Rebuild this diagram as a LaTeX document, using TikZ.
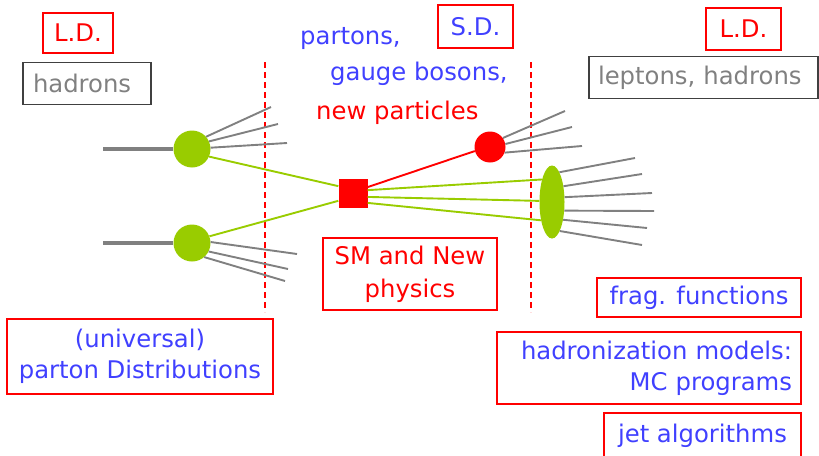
\documentclass[tikz,border=0pt]{standalone}
\usepackage{fontspec}
\setmainfont{DejaVu Sans}
\usetikzlibrary{shapes.geometric}
\definecolor{ldred}{RGB}{255,0,0}
\definecolor{sdblue}{RGB}{64,64,255}
\definecolor{blobgreen}{RGB}{153,204,0}
\definecolor{legray}{RGB}{128,128,128}
\definecolor{framegray}{RGB}{64,64,64}

\begin{document}
\begin{tikzpicture}[x=1pt,y=-1pt,
  lbl/.style={font=\fontsize{24.3}{31}\selectfont, inner ysep=0pt},
  redbox/.style={lbl, draw=ldred, line width=1.3pt},
  graybox/.style={lbl, draw=framegray, line width=1.3pt, text=legray},
  fan/.style={legray, line width=1.9pt},
  gluon/.style={blobgreen, line width=1.9pt},
  beam/.style={legray, line width=4.5pt},
  blob/.style={circle, fill=blobgreen, minimum size=37pt, inner sep=0pt},
  cut/.style={ldred, dash pattern=on 6pt off 4pt, line width=1.4pt}]

\useasboundingbox (0,0) rectangle (819,455);

% labels and boxes
\node[redbox, text=ldred, minimum width=70pt, minimum height=40pt, inner xsep=0pt] (ldl) at (78,33) {L.D.};
\node[graybox, text width=108pt, align=left, inner xsep=10pt, minimum height=42pt] (had) at (87,83.5) {hadrons};
\node[redbox, text=sdblue, minimum width=75pt, minimum height=43pt, inner xsep=0pt] (sd) at (475.5,26.5) {S.D.};
\node[redbox, text=ldred, minimum width=75pt, minimum height=42pt, inner xsep=0pt] (ldr) at (743.5,29) {L.D.};
\node[graybox, text width=211pt, align=left, inner xsep=9pt, minimum height=42pt] (lep) at (703.5,77.5) {leptons, hadrons};

\node[lbl, text=sdblue, anchor=base west, inner sep=0pt] (prt) at (300,44) {partons,};
\node[lbl, text=sdblue, anchor=base west, inner sep=0pt] (gb) at (330,80) {gauge bosons,};
\node[lbl, text=ldred, anchor=base west, inner sep=0pt] (newp) at (316,119) {new particles};

\node[redbox, text=ldred, align=center, minimum width=174pt, minimum height=72pt, inner xsep=0pt,
      font=\fontsize{24.3}{33}\selectfont] (sm) at (410,274) {SM and New\\physics};
\node[redbox, text=sdblue, minimum width=204pt, minimum height=39pt, inner xsep=0pt] (frag) at (699,297.5) {frag. functions};
\node[redbox, text=sdblue, align=center, minimum width=266pt, minimum height=75pt, inner xsep=0pt] (pdf) at (140,356.5) {(universal)\\parton Distributions};
\node[redbox, text=sdblue, text width=286pt, align=right, inner xsep=9pt, minimum height=72pt] (mc) at (649,368) {hadronization models:\\MC programs};
\node[redbox, text=sdblue, minimum width=197pt, minimum height=45pt, inner xsep=0pt] (jet) at (702.5,435.5) {jet algorithms};

% factorisation cuts
\coordinate (cl1) at (265,62);
\coordinate (cl2) at (265,312);
\coordinate (cr1) at (531,62);
\coordinate (cr2) at (531,312);
\draw[cut] (cl1) -- (cl2);
\draw[cut] (cr1) -- (cr2);

% blobs
\node[blob] (gu) at (192,149) {};
\node[blob] (gl) at (192,243) {};
\node[fill=ldred, minimum size=29pt, inner sep=0pt] (hard) at (353,193) {};
\node[circle, fill=ldred, minimum size=31pt, inner sep=0pt] (np) at (490,147) {};
\node[ellipse, fill=blobgreen, minimum width=25pt, minimum height=73pt, inner sep=0pt] (jetb) at (552,202) {};

% incoming hadrons
\coordinate (hu) at (103,149);
\coordinate (hl) at (103,243);
\draw[beam] (hu) -- (gu.west);
\draw[beam] (hl) -- (gl.west);

% remnants of the incoming hadrons
\coordinate (a1) at (271,107);
\coordinate (a2) at (278,124);
\coordinate (a3) at (287,143);
\coordinate (b1) at (297,254);
\coordinate (b2) at (288,269);
\coordinate (b3) at (285,281);
\draw[fan] (gu.41) -- (a1);
\draw[fan] (gu.24) -- (a2);
\draw[fan] (gu.4) -- (a3);
\draw[fan] (gl.3) -- (b1);
\draw[fan] (gl.-27) -- (b2);
\draw[fan] (gl.-49) -- (b3);

% partons into the hard process
\draw[gluon] (gu.-24) -- (hard.155);
\draw[gluon] (gl.21) -- (hard.208);

% new particle and its decay
\draw[ldred, line width=1.9pt] (hard.22) -- (np.195);
\coordinate (c1) at (565,111);
\coordinate (c2) at (572,127);
\coordinate (c3) at (582,146);
\draw[fan] (np.35) -- (c1);
\draw[fan] (np.11) -- (c2);
\draw[fan] (np.-21) -- (c3);

% partons into the jet
\draw[gluon] (hard.11) -- (jetb.114);
\draw[gluon] (hard.-15) -- (jetb.175);
\draw[gluon] (hard.-34) -- (jetb.239);

% jet fragments
\coordinate (d1) at (635,158);
\coordinate (d2) at (642,174);
\coordinate (d3) at (652,193);
\coordinate (d4) at (654,211);
\coordinate (d5) at (647,228);
\coordinate (d6) at (642,245);
\draw[fan] (jetb.76) -- (d1);
\draw[fan] (jetb.54) -- (d2);
\draw[fan] (jetb.21) -- (d3);
\draw[fan] (jetb.-35) -- (d4);
\draw[fan] (jetb.-58) -- (d5);
\draw[fan] (jetb.-75) -- (d6);
\end{tikzpicture}
\end{document}
